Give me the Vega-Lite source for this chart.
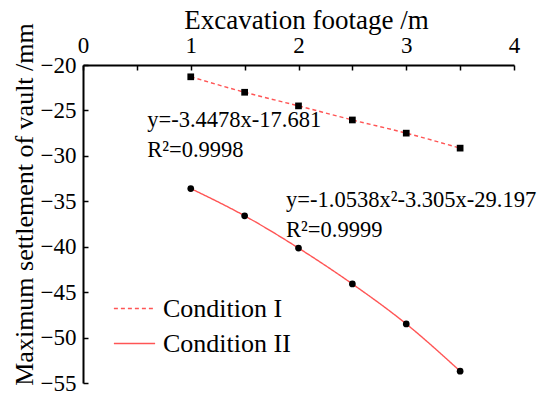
{
  "$schema": "https://vega.github.io/schema/vega-lite/v6.json",
  "width": 431,
  "height": 318,
  "autosize": {"type": "none"},
  "padding": {"left": 83, "top": 65, "right": 29, "bottom": 11},
  "background": "white",
  "config": {
    "view": {"stroke": null},
    "font": "Liberation Serif"
  },
  "datasets": {
    "pts": [
      {"footage": 1, "settlement": -21.3, "condition": "Condition I"},
      {"footage": 1.5, "settlement": -23.0, "condition": "Condition I"},
      {"footage": 2, "settlement": -24.5, "condition": "Condition I"},
      {"footage": 2.5, "settlement": -26.05, "condition": "Condition I"},
      {"footage": 3, "settlement": -27.5, "condition": "Condition I"},
      {"footage": 3.5, "settlement": -29.15, "condition": "Condition I"},
      {"footage": 1, "settlement": -33.6, "condition": "Condition II"},
      {"footage": 1.5, "settlement": -36.6, "condition": "Condition II"},
      {"footage": 2, "settlement": -40.15, "condition": "Condition II"},
      {"footage": 2.5, "settlement": -44.1, "condition": "Condition II"},
      {"footage": 3, "settlement": -48.5, "condition": "Condition II"},
      {"footage": 3.5, "settlement": -53.7, "condition": "Condition II"}
    ],
    "notes": [
      {"label": "y=-3.4478x-17.681", "footage": 0.596, "settlement": -26.05},
      {"label": "R²=0.9998", "footage": 0.596, "settlement": -29.35},
      {"label": "y=-1.0538x²-3.305x-29.197", "footage": 1.885, "settlement": -34.86},
      {"label": "R²=0.9999", "footage": 1.885, "settlement": -38.16}
    ]
  },
  "layer": [
    {
      "data": {"name": "pts"},
      "mark": {"type": "line", "color": "#ff5555", "strokeWidth": 1.4, "interpolate": "monotone"},
      "encoding": {
        "x": {
          "field": "footage", "type": "quantitative",
          "scale": {"domain": [0, 4], "nice": false, "zero": false},
          "axis": {
            "orient": "top",
            "title": "Excavation footage /m",
            "values": [0, 0.5, 1, 1.5, 2, 2.5, 3, 3.5, 4],
            "labelExpr": "datum.value % 1 == 0 ? format(datum.value, 'd') : ''",
            "grid": false,
            "domainColor": "black", "domainWidth": 2,
            "tickColor": "black", "tickWidth": 1.5, "tickSize": -5,
            "labelFont": "Liberation Serif", "labelFontSize": 23, "labelColor": "black",
            "labelPadding": 18, "labelBaseline": "alphabetic",
            "labelFlush": false, "labelOverlap": false,
            "titleFont": "Liberation Serif", "titleFontSize": 27, "titleFontWeight": "normal", "titleColor": "black",
            "titleX": 223, "titleY": -45, "titleAlign": "center", "titleBaseline": "middle", "titleAnchor": null
          }
        },
        "y": {
          "field": "settlement", "type": "quantitative",
          "scale": {"domain": [-55, -20], "nice": false, "zero": false},
          "axis": {
            "orient": "left",
            "title": "Maximum settlement of vault /mm",
            "values": [-20, -22.5, -25, -27.5, -30, -32.5, -35, -37.5, -40, -42.5, -45, -47.5, -50, -52.5, -55],
            "labelExpr": "datum.value % 5 == 0 ? format(datum.value, 'd') : ''",
            "grid": false,
            "domainColor": "black", "domainWidth": 2,
            "tickColor": "black", "tickWidth": 1.5, "tickSize": -5,
            "labelFont": "Liberation Serif", "labelFontSize": 23, "labelColor": "black",
            "labelPadding": 12, "labelBaseline": "middle", "labelFlush": false, "labelOverlap": false,
            "titleFont": "Liberation Serif", "titleFontSize": 26, "titleFontWeight": "normal", "titleColor": "black",
            "titleX": -59, "titleY": 139, "titleAngle": -90, "titleAlign": "center", "titleBaseline": "middle", "titleAnchor": null
          }
        },
        "strokeDash": {
          "field": "condition", "type": "nominal",
          "scale": {"domain": ["Condition I", "Condition II"], "range": [[4, 3], [1, 0]]},
          "legend": {
            "orient": "none", "legendX": 30, "legendY": 222,
            "title": null,
            "symbolType": "stroke", "symbolStrokeColor": "#ff5555", "symbolStrokeWidth": 1.4, "symbolSize": 1700,
            "labelFont": "Liberation Serif", "labelFontSize": 26, "labelColor": "black", "labelOffset": 7,
            "rowPadding": 0, "padding": 0
          }
        }
      }
    },
    {
      "data": {"name": "pts"},
      "transform": [{"filter": "datum.condition == 'Condition I'"}],
      "mark": {"type": "point", "shape": "square", "filled": true, "color": "black", "opacity": 1, "size": 45},
      "encoding": {
        "x": {"field": "footage", "type": "quantitative"},
        "y": {"field": "settlement", "type": "quantitative"}
      }
    },
    {
      "data": {"name": "pts"},
      "transform": [{"filter": "datum.condition == 'Condition II'"}],
      "mark": {"type": "point", "shape": "circle", "filled": true, "color": "black", "opacity": 1, "size": 45},
      "encoding": {
        "x": {"field": "footage", "type": "quantitative"},
        "y": {"field": "settlement", "type": "quantitative"}
      }
    },
    {
      "data": {"name": "notes"},
      "mark": {"type": "text", "align": "left", "baseline": "middle", "font": "Liberation Serif", "fontSize": 22.5, "color": "black"},
      "encoding": {
        "x": {"field": "footage", "type": "quantitative"},
        "y": {"field": "settlement", "type": "quantitative"},
        "text": {"field": "label"}
      }
    }
  ]
}
